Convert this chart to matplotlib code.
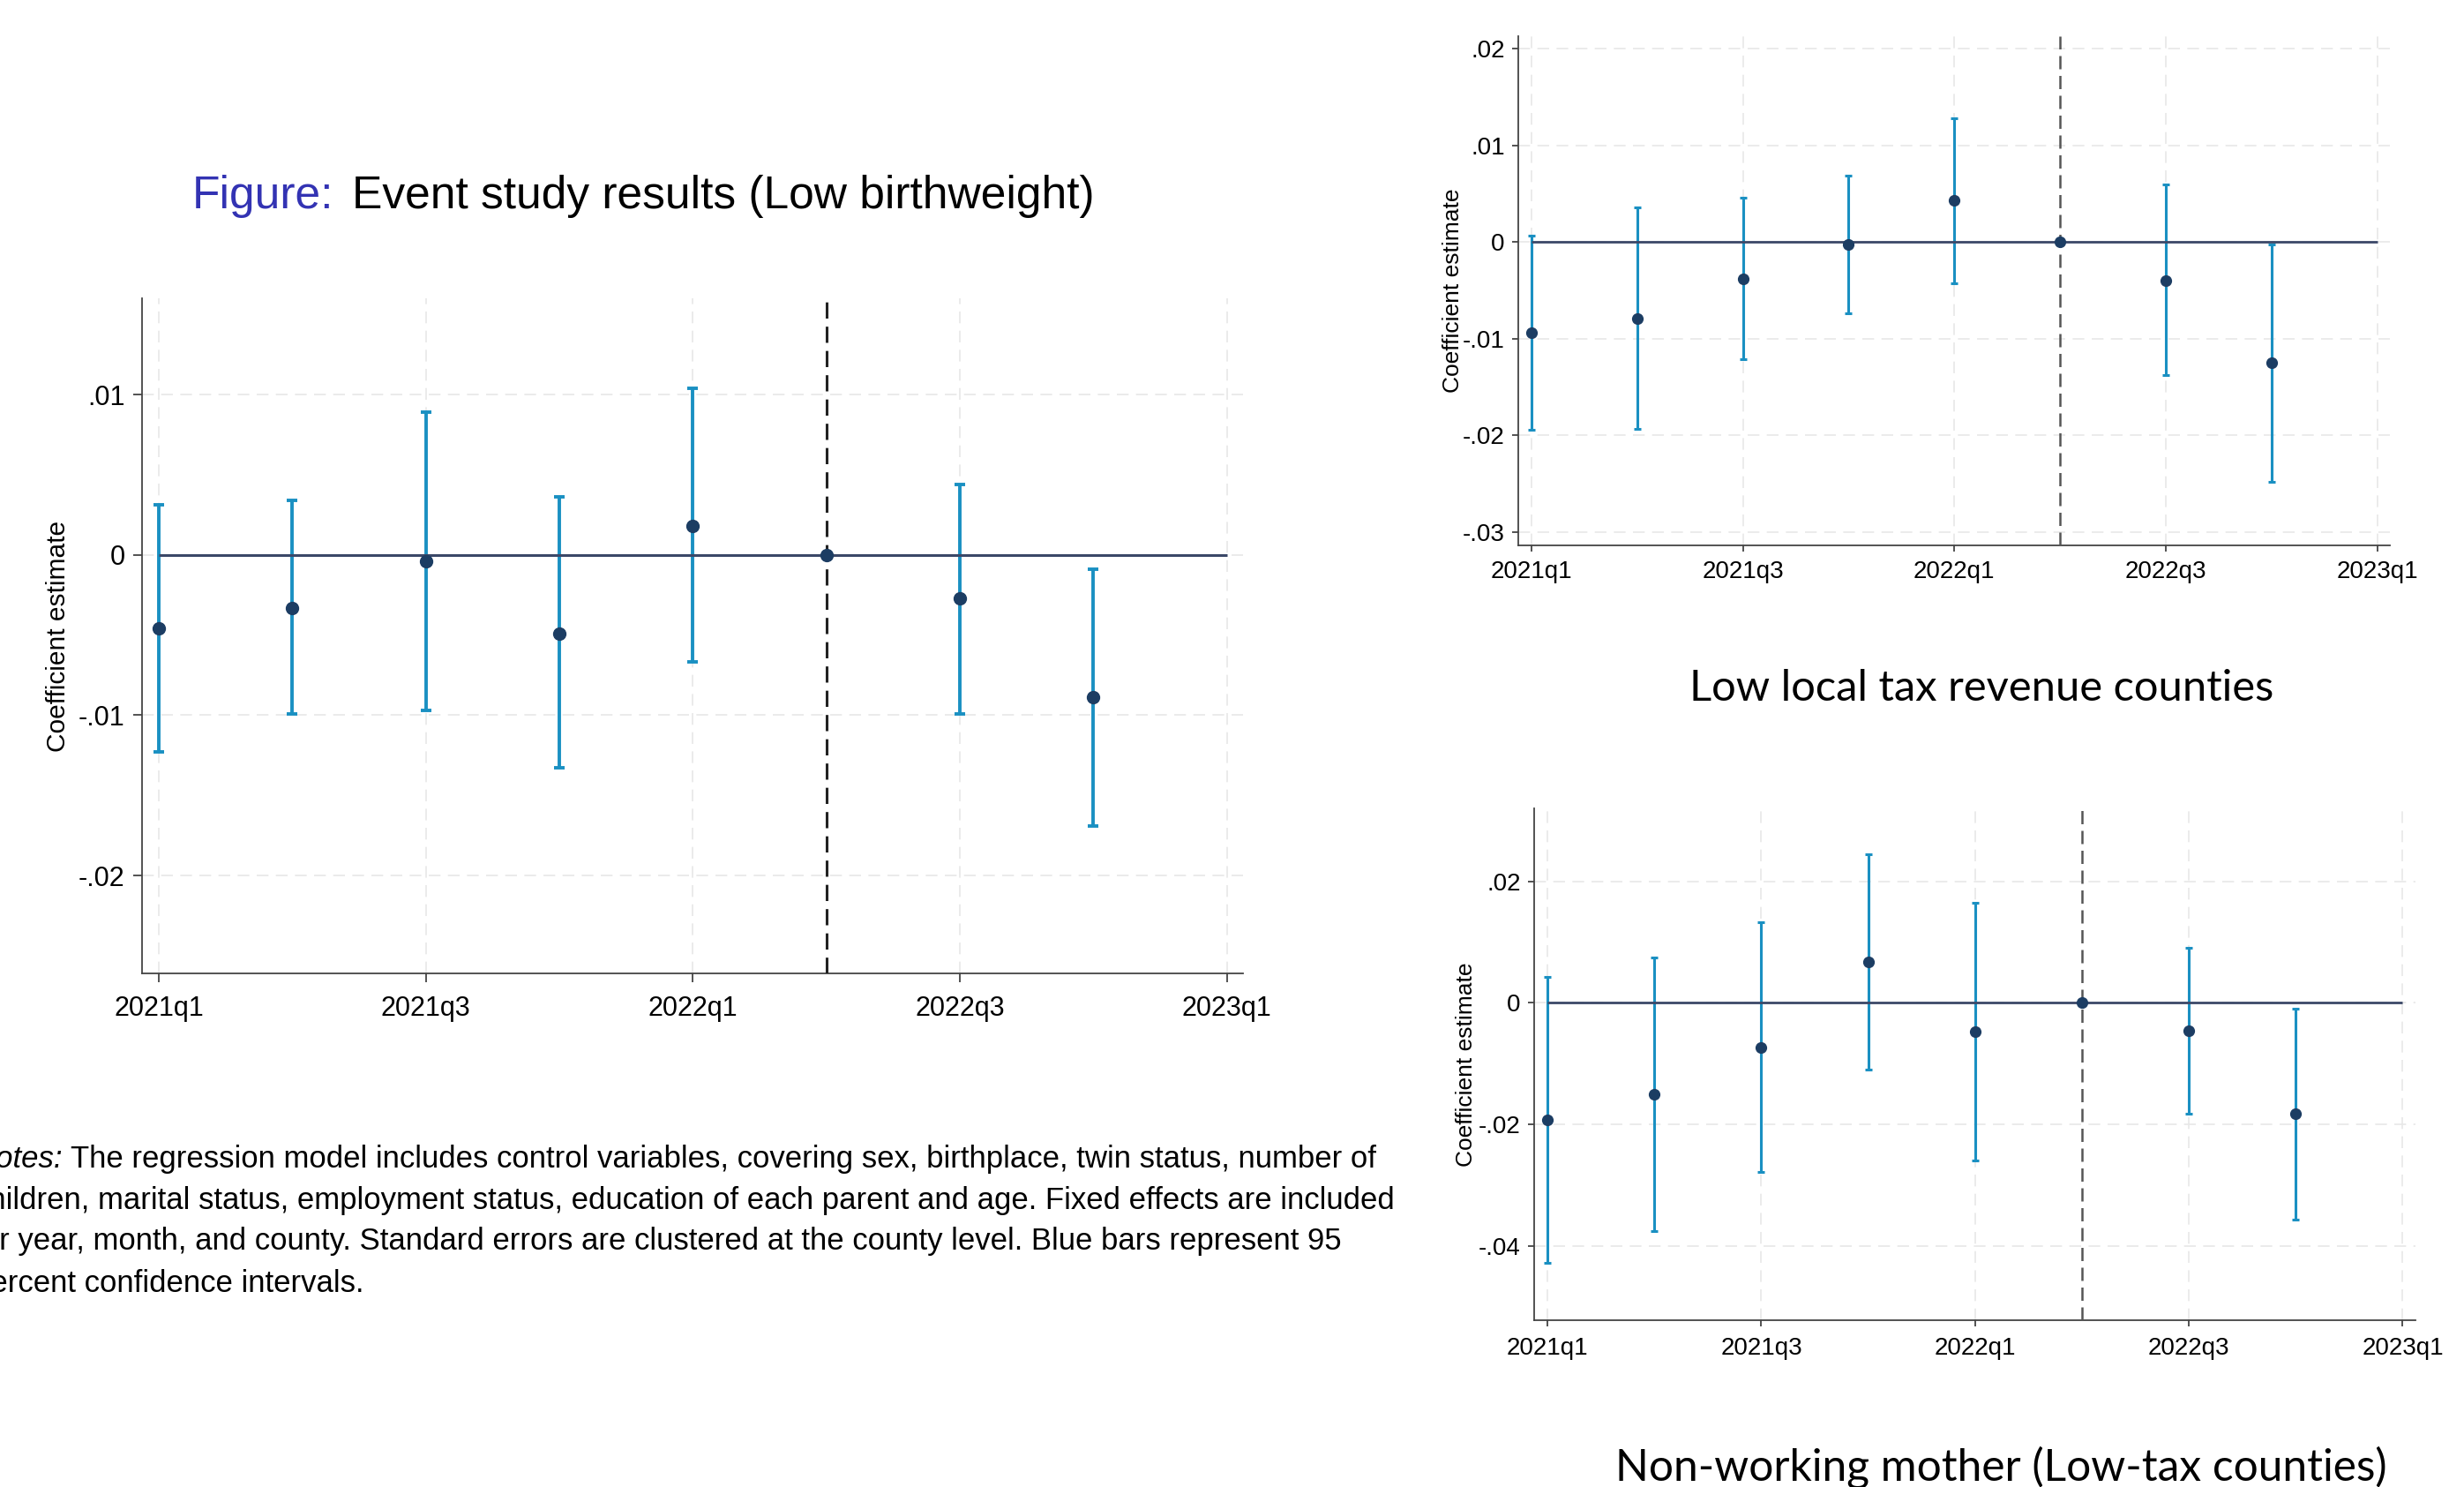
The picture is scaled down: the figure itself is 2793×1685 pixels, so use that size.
import matplotlib
matplotlib.use("Agg")
import matplotlib.pyplot as plt
from matplotlib import font_manager
import numpy as np

# event-study estimates, one per quarter (2022q2 is the reference period)
quarters = ['2021q1', '2021q2', '2021q3', '2021q4', '2022q1', '2022q2', '2022q3', '2022q4']
tick_labels = ['2021q1', '2021q3', '2022q1', '2022q3', '2023q1']
ref_quarter = '2022q2'

# Low birthweight (all counties)
bw_coef = [-0.0046, -0.0033, -0.0004, -0.0049, 0.0018, 0.0, -0.0027, -0.0089]
bw_lo = [-0.0123, -0.0099, -0.0097, -0.0133, -0.0067, 0.0, -0.0099, -0.0169]
bw_hi = [0.0031, 0.0034, 0.0089, 0.0036, 0.0104, 0.0, 0.0044, -0.0009]

# Low local tax revenue counties
tax_coef = [-0.0094, -0.0079, -0.0038, -0.0003, 0.0043, 0.0, -0.0040, -0.0125]
tax_lo = [-0.0194, -0.0193, -0.0121, -0.0074, -0.0043, 0.0, -0.0138, -0.0248]
tax_hi = [0.0007, 0.0036, 0.0046, 0.0069, 0.0128, 0.0, 0.0060, -0.0003]

# Non-working mother (low-tax counties)
nw_coef = [-0.0193, -0.0150, -0.0073, 0.0067, -0.0048, 0.0, -0.0046, -0.0183]
nw_lo = [-0.0428, -0.0375, -0.0278, -0.0109, -0.0259, 0.0, -0.0182, -0.0356]
nw_hi = [0.0043, 0.0075, 0.0133, 0.0244, 0.0165, 0.0, 0.0090, -0.0009]

bw_yticks = [-0.02, -0.01, 0.0, 0.01]
bw_ylabels = ['-.02', '-.01', '0', '.01']
tax_yticks = [-0.03, -0.02, -0.01, 0.0, 0.01, 0.02]
tax_ylabels = ['-.03', '-.02', '-.01', '0', '.01', '.02']
nw_yticks = [-0.04, -0.02, 0.0, 0.02]
nw_ylabels = ['-.04', '-.02', '0', '.02']

notes_lines = [
    "The regression model includes control variables, covering sex, birthplace, twin status, number of",
    "children, marital status, employment status, education of each parent and age. Fixed effects are included",
    "for year, month, and county. Standard errors are clustered at the county level. Blue bars represent 95",
    "percent confidence intervals.",
]

names = {f.name for f in font_manager.fontManager.ttflist}
narrow = 'Liberation Sans Narrow' if 'Liberation Sans Narrow' in names else 'Liberation Sans'
arial = 'Liberation Sans'
beamer = 'Lato'

CI_COL = '#1a90c2'
PT_COL = '#1c3d63'
ZERO_COL = '#3b4868'

W, H = 2793, 1685
fig = plt.figure(figsize=(W / 100, H / 100), dpi=100)


def add_axes_px(l, t, r, b):
    return fig.add_axes([l / W, 1 - b / H, (r - l) / W, (b - t) / H])


def event_plot(ax, coef, lo, hi, yticks, ylabels, ylim, st):
    x = np.array([quarters.index(q) for q in quarters], dtype=float)
    coef, lo, hi = np.array(coef), np.array(lo), np.array(hi)
    has_ci = hi > lo
    ax.set_xlim(-0.125, 8.12)
    ax.set_ylim(*ylim)
    ax.grid(True, color='#e8e8e8', linestyle=(0, (8, 5)), linewidth=1.2)
    ax.set_axisbelow(True)
    ax.errorbar(x[has_ci], coef[has_ci],
                yerr=[coef[has_ci] - lo[has_ci], hi[has_ci] - coef[has_ci]],
                fmt='none', ecolor=CI_COL, elinewidth=st['elw'],
                capsize=st['cap'], capthick=st['elw'], zorder=2)
    ax.hlines(0, 0, 8, color=ZERO_COL, lw=st['zlw'], zorder=3)
    ax.axvline(quarters.index(ref_quarter), color=st['vcol'], lw=st['vlw'],
               linestyle=(0, (6, 3)), zorder=3)
    ax.plot(x, coef, 'o', color=PT_COL, ms=st['ms'], zorder=5)
    ax.set_xticks([0, 2, 4, 6, 8], tick_labels, fontfamily=st['font'], fontsize=st['fs'])
    ax.set_yticks(yticks, ylabels, fontfamily=st['font'], fontsize=st['fs'])
    ax.tick_params(length=st['tl'], width=1.3, color='#444444', pad=st['pad'])
    ax.tick_params(axis='x', pad=st['xpad'])
    for s in ['top', 'right']:
        ax.spines[s].set_visible(False)
    for s in ['left', 'bottom']:
        ax.spines[s].set_color('#444444')
        ax.spines[s].set_linewidth(1.3)
    ax.set_ylabel('Coefficient estimate', fontfamily=st['font'], fontsize=st['lfs'], va='center')
    ax.yaxis.set_label_coords(st['lx'], 0.5)


main_style = dict(elw=2.8, cap=4.5, zlw=2.2, vcol='#222222', vlw=2.2, ms=10,
                  font=arial, fs=22, lfs=21.5, tl=7, pad=7, xpad=11, lx=-0.076)
side_style = dict(elw=2.2, cap=3.0, zlw=2.0, vcol='#555555', vlw=1.8, ms=8.5,
                  font=narrow, fs=20, lfs=19, tl=5, pad=6, xpad=7, lx=-0.075)

ax1 = add_axes_px(161, 338, 1409, 1103)
event_plot(ax1, bw_coef, bw_lo, bw_hi, bw_yticks, bw_ylabels, (-0.0261, 0.016), main_style)

ax2 = add_axes_px(1721, 41, 2709, 618)
event_plot(ax2, tax_coef, tax_lo, tax_hi, tax_yticks, tax_ylabels, (-0.0314, 0.0213), side_style)

ax3 = add_axes_px(1739, 916, 2738, 1496)
side_style['lx'] = -0.077
side_style['xpad'] = 9
event_plot(ax3, nw_coef, nw_lo, nw_hi, nw_yticks, nw_ylabels, (-0.0522, 0.032), side_style)

renderer = fig.canvas.get_renderer()


def fit(t, width_px):
    for _ in range(2):
        w = t.get_window_extent(renderer).width
        t.set_fontsize(t.get_fontsize() * width_px / w)


# main title: blue "Figure:" + black text
t_main = fig.text(399 / W, 1 - 236 / H, 'Event study results (Low birthweight)',
                  ha='left', va='baseline', fontfamily=narrow, fontsize=40, color='black')
fit(t_main, 842)
fig.text(378 / W, 1 - 236 / H, 'Figure:', ha='right', va='baseline', fontfamily=narrow,
         fontsize=t_main.get_fontsize(), color='#3333b3')

t2 = fig.text(2246 / W, 1 - 794 / H, 'Low local tax revenue counties', ha='center',
              va='baseline', fontfamily=beamer, fontsize=30)
fit(t2, 662)
t3 = fig.text(2268 / W, 1 - 1677 / H, 'Non-working mother (Low-tax counties)', ha='center',
              va='baseline', fontfamily=beamer, fontsize=34)
fit(t3, 874)

# notes below the main chart (cut at the left edge, as on the slide)
baselines = [1323, 1370, 1416, 1464]
t_n1 = fig.text(80 / W, 1 - baselines[0] / H, notes_lines[0], ha='left', va='baseline',
                fontfamily=narrow, fontsize=24)
fit(t_n1, 1480)
nfs = t_n1.get_fontsize()
t_lab = fig.text(71 / W, 1 - baselines[0] / H, 'Notes:', ha='right', va='baseline',
                 fontfamily=narrow, fontsize=nfs, style='italic')
x0 = t_lab.get_window_extent(renderer).x0
for line, yb in zip(notes_lines[1:], baselines[1:]):
    fig.text(x0 / W, 1 - yb / H, line, ha='left', va='baseline', fontfamily=narrow, fontsize=nfs)

fig.savefig('out.png', dpi=100)
